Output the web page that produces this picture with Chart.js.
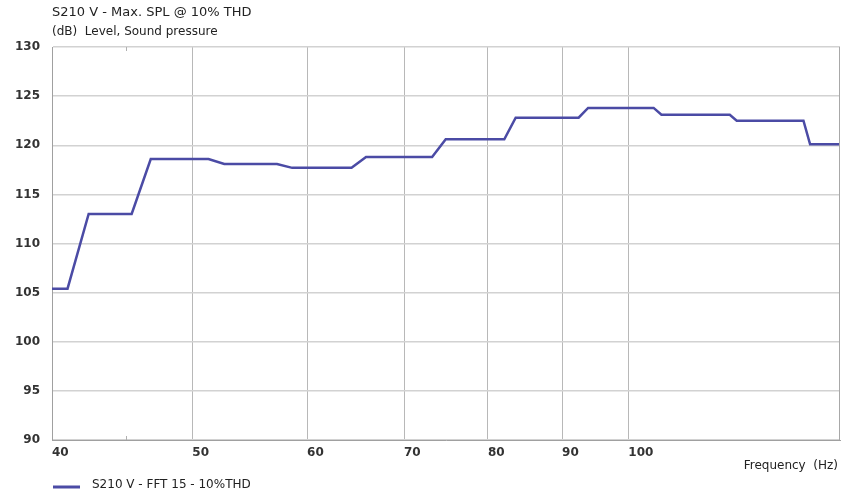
<!DOCTYPE html>
<html>
<head>
<meta charset="utf-8">
<script src="https://cdn.jsdelivr.net/npm/chart.js@4.4.0/dist/chart.umd.min.js"></script>
<style>
html,body{margin:0;padding:0;background:#fff;}
#wrap{width:842px;height:494px;position:relative;}
</style>
</head>
<body>
<div id="wrap"><canvas id="c" width="842" height="494"></canvas></div>
<script>
const chartTitle = "S210 V - Max. SPL @ 10% THD";
const yAxisTitle = "(dB)  Level, Sound pressure";
const xAxisTitle = "Frequency  (Hz)";
const seriesName = "S210 V - FFT 15 - 10%THD";
const freqs = [40, 41.0, 42.4, 45.4, 46.8, 51.3, 52.6, 57.2, 58.6, 64.4, 65.9, 73.2, 74.8, 82.1, 83.6, 92.4, 93.8, 104.1, 105.4, 117.5, 118.8, 132.1, 133.5, 140];
const spl = [105.4, 105.4, 113.0, 113.0, 118.6, 118.6, 118.1, 118.1, 117.7, 117.7, 118.8, 118.8, 120.6, 120.6, 122.8, 122.8, 123.8, 123.8, 123.1, 123.1, 122.5, 122.5, 120.1, 120.1];
const xTicks = [40, 50, 60, 70, 80, 90, 100];
const xMinorTicks = [45];
const yTicks = [90, 95, 100, 105, 110, 115, 120, 125, 130];

const FONT = "'DejaVu Sans', Verdana, sans-serif";
const lineColor = '#4b4ba5';

const textPlugin = {
  id: 'texts',
  afterDraw(chart) {
    const ctx = chart.ctx;
    const a = chart.chartArea;
    const xs = chart.scales.x;
    ctx.save();
    ctx.strokeStyle = '#b0b0b0';
    ctx.lineWidth = 1;
    xMinorTicks.forEach(v => {
      const px = Math.round(xs.getPixelForValue(v)) + 0.5;
      ctx.beginPath();
      ctx.moveTo(px, a.top); ctx.lineTo(px, a.top + 4);
      ctx.moveTo(px, a.bottom); ctx.lineTo(px, a.bottom - 4);
      ctx.stroke();
    });
    ctx.fillStyle = '#222';
    ctx.textBaseline = 'middle';
    ctx.textAlign = 'left';
    ctx.font = '13px ' + FONT;
    ctx.fillText(chartTitle, a.left, 13);
    ctx.font = '12px ' + FONT;
    ctx.fillText(yAxisTitle, a.left, 32);
    ctx.textAlign = 'right';
    ctx.fillText(xAxisTitle, a.right - 2, 466);
    ctx.strokeStyle = lineColor;
    ctx.lineWidth = 3;
    ctx.beginPath();
    ctx.moveTo(53, 487); ctx.lineTo(80, 487);
    ctx.stroke();
    ctx.textAlign = 'left';
    ctx.fillStyle = '#222';
    ctx.fillText(seriesName, 92, 485);
    ctx.restore();
  }
};

new Chart(document.getElementById('c'), {
  type: 'line',
  data: {
    datasets: [{
      label: seriesName,
      data: freqs.map((f, i) => ({x: f, y: spl[i]})),
      borderColor: lineColor,
      borderWidth: 2.5,
      pointRadius: 0,
      tension: 0,
      fill: false
    }]
  },
  options: {
    responsive: false,
    animation: false,
    devicePixelRatio: 1,
    layout: {padding: {top: 47, right: 2, left: 0, bottom: 0}},
    plugins: {legend: {display: false}, tooltip: {enabled: false}, title: {display: false}},
    scales: {
      x: {
        type: 'logarithmic',
        min: 40, max: 140,
        afterBuildTicks: s => { s.ticks = xTicks.map(v => ({value: v})); },
        afterFit: s => { s.height = 54; },
        grid: {color: '#b8b8b8', lineWidth: 1, drawTicks: false},
        border: {color: '#a0a0a0', width: 1},
        ticks: {
          align: 'start',
          padding: 6,
          color: '#333',
          font: {family: FONT, size: 12, weight: 'bold'},
          maxRotation: 0,
          autoSkip: false,
          callback: v => String(v)
        }
      },
      y: {
        min: 90, max: 130,
        afterBuildTicks: s => { s.ticks = yTicks.map(v => ({value: v})); },
        afterFit: s => { s.width = 52; },
        grid: {color: '#d2d2d2', lineWidth: 1.5, drawTicks: false},
        border: {color: '#a0a0a0', width: 1},
        ticks: {
          padding: 12,
          color: '#333',
          font: {family: FONT, size: 12, weight: 'bold'},
          callback: v => String(v)
        }
      }
    }
  },
  plugins: [textPlugin, {
    id: 'frame',
    afterDatasetsDraw(chart) {
      const a = chart.chartArea, ctx = chart.ctx;
      ctx.save();
      ctx.strokeStyle = '#a8a8a8';
      ctx.lineWidth = 1;
      ctx.beginPath();
      ctx.moveTo(Math.round(a.right) - 0.5, a.top);
      ctx.lineTo(Math.round(a.right) - 0.5, a.bottom);
      ctx.stroke();
      ctx.restore();
    }
  }]
});
</script>
</body>
</html>
